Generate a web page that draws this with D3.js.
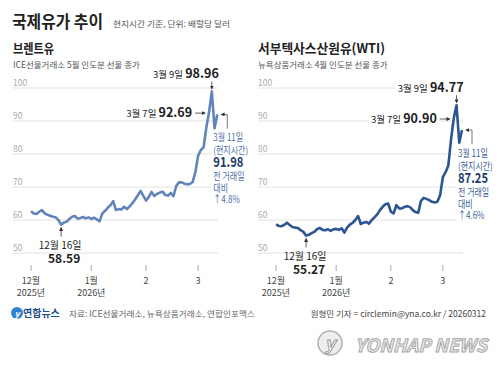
<!DOCTYPE html>
<html>
<head>
<meta charset="utf-8">
<script src="https://cdn.jsdelivr.net/npm/d3@7"></script>
<style>
  body { margin: 0; background: #fff; }
  svg { display: block; }
  text { font-family: 'Noto Sans CJK KR', 'Noto Sans', sans-serif; }
</style>
</head>
<body>
<div id="chart"></div>
<script>
// trading days, Dec 2025 - Mar 11 2026
const tradingDays = [
  "2025-12-01","2025-12-02","2025-12-03","2025-12-04","2025-12-05",
  "2025-12-08","2025-12-09","2025-12-10","2025-12-11","2025-12-12",
  "2025-12-15","2025-12-16","2025-12-17","2025-12-18","2025-12-19",
  "2025-12-22","2025-12-23","2025-12-24","2025-12-26",
  "2025-12-29","2025-12-30","2025-12-31",
  "2026-01-02","2026-01-05","2026-01-06","2026-01-07","2026-01-08","2026-01-09",
  "2026-01-12","2026-01-13","2026-01-14","2026-01-15","2026-01-16",
  "2026-01-20","2026-01-21","2026-01-22","2026-01-23",
  "2026-01-26","2026-01-27","2026-01-28","2026-01-29","2026-01-30",
  "2026-02-02","2026-02-03","2026-02-04","2026-02-05","2026-02-06",
  "2026-02-09","2026-02-10","2026-02-11","2026-02-12","2026-02-13",
  "2026-02-17","2026-02-18","2026-02-19","2026-02-20",
  "2026-02-23","2026-02-24","2026-02-25","2026-02-26","2026-02-27",
  "2026-03-02","2026-03-03","2026-03-04","2026-03-05","2026-03-06",
  "2026-03-09","2026-03-10","2026-03-11"
];

const brent = [
  62.6, 62.0, 61.8, 62.5, 63.0, 62.0, 61.6, 61.3, 61.0, 60.8,
  60.0, 58.59, 59.2, 59.5, 60.3, 61.0, 61.2, 60.4, 60.6, 60.9,
  60.5, 60.8, 60.3, 60.7, 60.2, 59.6, 61.9, 62.8, 63.7, 64.5,
  65.7, 63.0, 63.3, 63.2, 64.0, 63.3, 64.1, 65.1, 66.2, 67.5,
  68.8, 67.3, 65.9, 67.0, 68.5, 67.3, 67.9, 68.3, 68.6, 67.6,
  67.4, 68.2, 67.2, 70.3, 71.4, 71.4, 71.0, 70.8, 70.9, 71.5,
  74.5, 79.5, 81.2, 82.0, 88.0, 92.69, 98.96, 87.8, 91.98
];

const wti = [
  58.7, 58.2, 58.1, 58.5, 59.2, 58.5, 57.9, 57.7, 57.6, 56.9,
  56.4, 55.27, 55.5, 56.0, 56.4, 57.2, 57.6, 57.0, 56.9, 57.2,
  56.7, 57.2, 57.3, 57.0, 57.5, 56.2, 57.7, 58.6, 59.1, 60.0,
  61.2, 58.8, 59.2, 59.4, 58.9, 60.0, 60.8, 61.7, 63.0, 64.0,
  64.8, 65.0, 62.5, 62.0, 64.5, 63.5, 63.5, 64.0, 64.2, 63.9,
  63.0, 62.4, 62.2, 65.8, 66.7, 66.4, 66.0, 65.5, 65.3, 65.5,
  67.5, 73.0, 74.5, 76.5, 84.5, 90.90, 94.77, 83.4, 87.25
];

const yTicks = [50, 60, 70, 80, 90, 100];
const xTickDays = ["2025-12-01", "2026-01-02", "2026-02-02", "2026-03-02"];
const xTickLabels = [["12월", "2025년"], ["1월", "2026년"], ["2"], ["3"]];

const W = 500, H = 377;
const svg = d3.select("#chart").append("svg")
    .attr("width", W)
    .attr("height", H);

svg.append("rect").attr("width", W).attr("height", H).attr("fill", "#fff");

// arrow head marker
const defs = svg.append("defs");
defs.append("marker")
    .attr("id", "arr")
    .attr("viewBox", "0 0 6 6")
    .attr("refX", 5).attr("refY", 3)
    .attr("markerWidth", 5).attr("markerHeight", 5)
    .attr("orient", "auto")
  .append("path")
    .attr("d", "M0,0L6,3L0,6Z")
    .attr("fill", "#333");

// header
svg.append("text")
    .attr("x", 12).attr("y", 28)
    .attr("font-size", 17).attr("font-weight", 700)
    .attr("fill", "#222")
    .attr("textLength", 91).attr("lengthAdjust", "spacingAndGlyphs")
    .text("국제유가 추이");
svg.append("text")
    .attr("x", 113).attr("y", 27)
    .attr("font-size", 8.5)
    .attr("fill", "#555")
    .attr("textLength", 117).attr("lengthAdjust", "spacingAndGlyphs")
    .text("현지시간 기준, 단위: 배럴당 달러");

const y = d3.scaleLinear().domain([50, 100]).range([253, 88]);

const panels = [
  {
    name: "브렌트유", nameLen: 41, sub: "ICE선물거래소 5월 인도분 선물 종가",
    data: brent, left: 13, x0: 31, x1: 217.3, gridEnd: 218,
    color: "#6284bb", bigColor: "#1d3c6b", noteColor: "#4d6fa6"
  },
  {
    name: "서부텍사스산원유(WTI)", nameLen: 127, sub: "뉴욕상품거래소 4월 인도분 선물 종가",
    data: wti, left: 258, x0: 276, x1: 462, gridEnd: 463,
    color: "#2c5591", bigColor: "#1d3c6b", noteColor: "#3b5f97"
  }
];

panels.forEach(function(p) {
  const g = svg.append("g");
  const x = d3.scalePoint().domain(tradingDays).range([p.x0, p.x1]);
  const pts = tradingDays.map(function(d, i) { return {day: d, v: p.data[i]}; });

  g.append("text")
      .attr("x", p.left).attr("y", 53)
      .attr("font-size", 13).attr("font-weight", 700)
      .attr("fill", "#222")
      .attr("textLength", p.nameLen).attr("lengthAdjust", "spacingAndGlyphs")
      .text(p.name);
  g.append("text")
      .attr("x", p.left).attr("y", 68)
      .attr("font-size", 8.5)
      .attr("fill", "#555")
      .text(p.sub);

  // grid
  g.selectAll(".grid")
    .data(yTicks)
    .enter().append("line")
      .attr("x1", p.left).attr("x2", p.gridEnd)
      .attr("y1", function(d) { return y(d); })
      .attr("y2", function(d) { return y(d); })
      .attr("stroke", "#e2e2e2")
      .attr("stroke-width", 1);
  g.selectAll(".ylab")
    .data(yTicks)
    .enter().append("text")
      .attr("x", p.left).attr("y", function(d) { return y(d) - 2; })
      .attr("font-size", 8.5)
      .attr("fill", "#aaa")
      .text(function(d) { return d; });

  // x axis ticks
  xTickDays.forEach(function(d, i) {
    const tx = x(d);
    g.append("line")
        .attr("x1", tx).attr("x2", tx)
        .attr("y1", 265).attr("y2", 271)
        .attr("stroke", "#aaa");
    xTickLabels[i].forEach(function(t, j) {
      g.append("text")
          .attr("x", tx).attr("y", 284 + j * 12)
          .attr("text-anchor", "middle")
          .attr("font-size", 9)
          .attr("fill", "#444")
          .text(t);
    });
  });

  // line
  g.append("path")
      .datum(pts)
      .attr("fill", "none")
      .attr("stroke", p.color)
      .attr("stroke-width", 2.6)
      .attr("stroke-linejoin", "round")
      .attr("d", d3.line()
          .x(function(d) { return x(d.day); })
          .y(function(d) { return y(d.v); }));

  const notes = g.append("g");

  function label(parent, tx, ty, parts, anchor) {
    const t = parent.append("text")
        .attr("x", tx).attr("y", ty)
        .attr("text-anchor", anchor || "start");
    parts.forEach(function(pt) {
      t.append("tspan")
          .attr("font-size", pt.size)
          .attr("font-weight", pt.bold ? 700 : 400)
          .attr("fill", pt.color || "#222")
          .text(pt.text);
    });
    return t;
  }
  function backdrop(t) {
    const b = t.node().getBBox();
    notes.insert("rect", ":first-child")
        .attr("x", b.x - 2).attr("y", b.y + 2)
        .attr("width", b.width + 4).attr("height", b.height - 4)
        .attr("fill", "#fff");
  }

  const n = p.data.length;
  const iLow = d3.minIndex(p.data);
  const iMax = d3.maxIndex(p.data);
  const iPrev7 = iMax - 1;
  const last = pts[n - 1], prev = pts[n - 2];

  // low point
  const lx = x(pts[iLow].day), ly = y(pts[iLow].v);
  notes.append("line")
      .attr("x1", lx).attr("x2", lx)
      .attr("y1", ly + 12).attr("y2", ly + 3)
      .attr("stroke", "#333").attr("stroke-width", 0.8)
      .attr("marker-end", "url(#arr)");
  label(notes, lx - 1, ly + 24, [{text: "12월 16일", size: 10}], "middle");
  label(notes, lx + 3, ly + 38, [{text: d3.format(".2f")(pts[iLow].v), size: 12, bold: true}], "middle");

  // peak
  const mx = x(pts[iMax].day), my = y(pts[iMax].v);
  backdrop(label(notes, mx + 7, my - 13, [
    {text: "3월 9일 ", size: 9.5},
    {text: d3.format(".2f")(pts[iMax].v), size: 12.5, bold: true}
  ], "end"));
  notes.append("line")
      .attr("x1", mx).attr("x2", mx)
      .attr("y1", my - 10).attr("y2", my - 2.5)
      .attr("stroke", "#333").attr("stroke-width", 0.8)
      .attr("marker-end", "url(#arr)");

  // day before peak
  const px = x(pts[iPrev7].day), py = y(pts[iPrev7].v);
  backdrop(label(notes, px - 17, py + 5, [
    {text: "3월 7일 ", size: 9.5},
    {text: d3.format(".2f")(pts[iPrev7].v), size: 12.5, bold: true}
  ], "end"));
  notes.append("line")
      .attr("x1", px - 14).attr("x2", px - 4)
      .attr("y1", py + 1).attr("y2", py + 1)
      .attr("stroke", "#333").attr("stroke-width", 0.8)
      .attr("marker-end", "url(#arr)");

  // last value bracket
  const ex = x(last.day), ey = y(last.v);
  notes.append("path")
      .attr("d", "M" + (ex + 10) + "," + (ey + 14) + "V" + ey + "H" + (ex + 4))
      .attr("fill", "none")
      .attr("stroke", "#555").attr("stroke-width", 0.8)
      .attr("marker-end", "url(#arr)");
  const pct = (last.v / prev.v - 1) * 100;
  const block = [
    {text: "3월 11일", size: 10, color: p.noteColor},
    {text: "(현지시간)", size: 10, color: p.noteColor},
    {text: d3.format(".2f")(last.v), size: 14, bold: true, color: p.bigColor},
    {text: "전 거래일", size: 10, color: p.noteColor},
    {text: "대비", size: 10, color: p.noteColor},
    {text: "↑" + d3.format(".1f")(pct) + "%", size: 10, color: p.noteColor}
  ];
  const offs = [0, 12.5, 25.5, 38.5, 50.5, 62];
  // condensed block like the source typeface
  const blk = notes.append("g")
      .attr("transform", "translate(" + (ex - 4) + "," + (ey + 27) + ") scale(0.8,1)");
  block.forEach(function(b, i) {
    label(blk, 0, offs[i], [b]);
  });
  const bb = blk.node().getBBox();
  notes.insert("rect", ":first-child")
      .attr("x", ex - 6).attr("y", ey + 27 + bb.y + 2)
      .attr("width", bb.width * 0.8 + 4).attr("height", bb.height - 4)
      .attr("fill", "#fff");
});

// footer
const foot = svg.append("g");
foot.append("circle").attr("cx", 17).attr("cy", 313).attr("r", 6).attr("fill", "#2f86cf");
foot.append("text").attr("x", 17).attr("y", 316.5)
    .attr("text-anchor", "middle").attr("font-size", 9).attr("font-weight", 700)
    .attr("font-style", "italic").attr("fill", "#fff").text("y");
foot.append("text").attr("x", 23).attr("y", 317)
    .attr("font-size", 10).attr("font-weight", 700).attr("fill", "#1a4f8a")
    .text("연합뉴스");
foot.append("text").attr("x", 69).attr("y", 317)
    .attr("font-size", 8.5).attr("fill", "#666")
    .attr("textLength", 186).attr("lengthAdjust", "spacingAndGlyphs")
    .text("자료: ICE선물거래소, 뉴욕상품거래소, 연합인포맥스");
foot.append("text").attr("x", 486).attr("y", 317)
    .attr("text-anchor", "end")
    .attr("font-size", 8.5).attr("fill", "#444")
    .text("원형민 기자 = circlemin@yna.co.kr / 20260312");

// watermark
const wm = svg.append("g");
wm.append("circle").attr("cx", 330).attr("cy", 343).attr("r", 12)
    .attr("fill", "#eee").attr("stroke", "#b0b0b0").attr("stroke-width", 1.5);
wm.append("text").attr("x", 330).attr("y", 350)
    .attr("text-anchor", "middle").attr("font-size", 18).attr("font-weight", 700)
    .attr("font-style", "italic").attr("fill", "#fff").attr("stroke", "#999").attr("stroke-width", 1)
    .text("y");
wm.append("text").attr("x", 355).attr("y", 352)
    .attr("font-family", "'DejaVu Sans', sans-serif")
    .attr("font-size", 18).attr("font-weight", 700).attr("font-style", "italic")
    .attr("textLength", 132).attr("lengthAdjust", "spacingAndGlyphs")
    .attr("fill", "#ececec").attr("stroke", "#a8a8a8").attr("stroke-width", 1)
    .text("YONHAP NEWS");
</script>
</body>
</html>
